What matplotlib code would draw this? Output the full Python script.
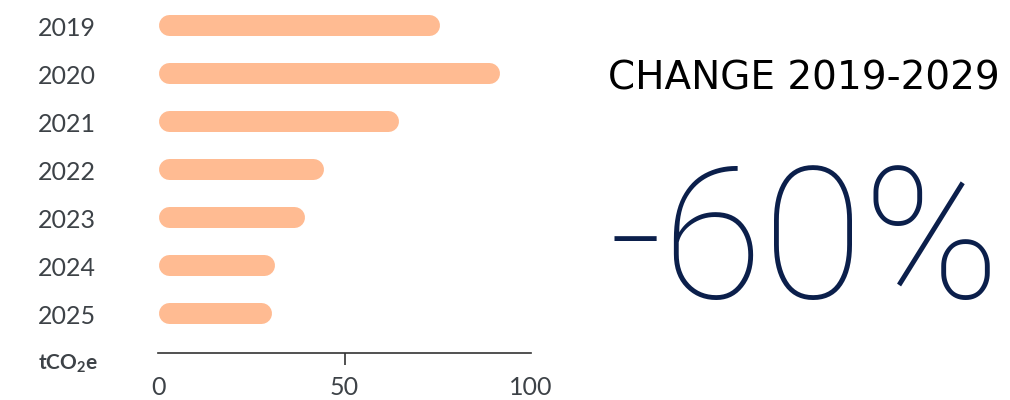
import matplotlib
matplotlib.use("Agg")
import matplotlib.pyplot as plt
from matplotlib.transforms import blended_transform_factory

years = ["2019", "2020", "2021", "2022", "2023", "2024", "2025"]
emissions = [75.4, 91.5, 64.5, 44.3, 39.3, 31.3, 30.4]
xticks = [0, 50, 100]
unit_label = r"$\mathbf{tCO_2e}$"
title = "CHANGE 2019-2029"
change = "-60%"

bar_color = "#FFBB92"
label_color = "#3d4247"
navy = "#0b1f4b"

plt.rcParams["font.family"] = ["Lato", "DejaVu Sans"]
plt.rcParams["mathtext.fontset"] = "custom"
plt.rcParams["mathtext.rm"] = "Lato"
plt.rcParams["mathtext.bf"] = "Lato:bold"

W, H = 1010, 400
fig = plt.figure(figsize=(W / 100, H / 100), dpi=100)
left, right, top, bottom = 158, 531, 0, 353
ax = fig.add_axes([left / W, 1 - bottom / H, (right - left) / W, (bottom - top) / H])

ax.set_xlim(0, 100)
ax.set_ylim(6.833, -0.521)

bar_px = 21
r = (bar_px / 2) * 100 / (right - left)  # cap radius in data units
for i, v in enumerate(emissions):
    ax.plot([r, v - r], [i, i], color=bar_color, lw=bar_px * 0.72,
            solid_capstyle="round")

for s in ["top", "right", "left"]:
    ax.spines[s].set_visible(False)
ax.spines["bottom"].set_color("#333333")
ax.spines["bottom"].set_linewidth(1.2)
ax.set_yticks([])
ax.set_xticks(xticks)
ax.tick_params(axis="x", length=8.5, width=1.2, color="#333333", pad=8,
               labelsize=18, labelcolor=label_color)
# only the middle tick has a mark
for k, t in enumerate(ax.xaxis.get_major_ticks()):
    if k != 1:
        t.tick1line.set_visible(False)

tr = blended_transform_factory(fig.transFigure, ax.transData)
for i, y in enumerate(years):
    ax.text(38 / W, i + 0.08, y, transform=tr, ha="left", va="center",
            fontsize=18, color=label_color)

fig.text(38 / W, 1 - 370 / H, unit_label, ha="left", va="baseline",
         fontsize=15, color=label_color)

fig.text(1000 / W, 1 - 90 / H, title, ha="right", va="baseline",
         fontsize=28, family=["DejaVu Sans"], color="black")
fig.text(1000 / W, 1 - 298 / H, change, ha="right", va="baseline",
         fontsize=132, fontweight="light", family=["Roboto", "DejaVu Sans"],
         color=navy)

fig.savefig("out.png", dpi=100)
